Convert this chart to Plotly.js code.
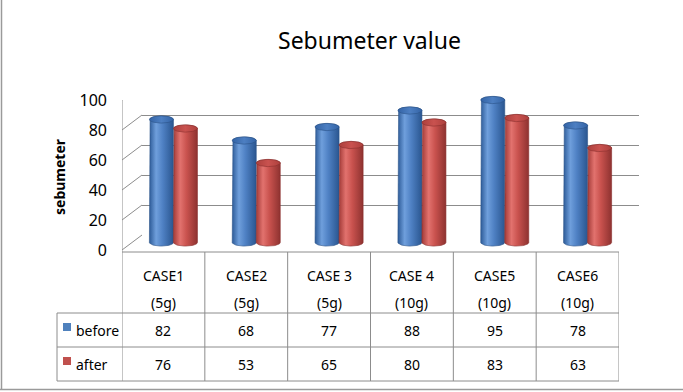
<!DOCTYPE html>
<html>
<head>
<meta charset="utf-8">
<script src="https://cdn.plot.ly/plotly-3.0.1.min.js"></script>
<style>html,body{margin:0;padding:0;background:#fff;}#chart{width:683px;height:392px;}</style>
</head>
<body>
<div id="chart"></div>
<script>
// ---- data ----
const categories = ['CASE1', 'CASE2', 'CASE 3', 'CASE 4', 'CASE5', 'CASE6'];
const weights = ['(5g)', '(5g)', '(5g)', '(10g)', '(10g)', '(10g)'];
const seriesNames = ['before', 'after'];
const before = [82, 68, 77, 88, 95, 78];
const after = [76, 53, 65, 80, 83, 63];
const yTicks = [0, 20, 40, 60, 80, 100];

// ---- style ----
const W = 683, H = 392;
const px = x => x / W;
const py = y => 1 - y / H;
const FONT = '"Noto Sans", "Open Sans", sans-serif';
const DX = 20, DY = 15;           // depth offset of back wall (px)
const gridColor = '#8c8c8c';
const tableColor = '#8c8c8c';
const styles = {
  before: {swatch: '#4f81bd', body: [[0, '#2d5b98'], [0.28, '#6f9fdc'], [0.55, '#4f81c4'], [1, '#2a5690']], cap: [[0, '#3464a6'], [0.5, '#4d7fc2'], [1, '#3464a6']], edge: '#2a5288'},
  after:  {swatch: '#c0504d', body: [[0, '#a33b38'], [0.28, '#e2726e'], [0.55, '#c9524e'], [1, '#8e3230']], cap: [[0, '#ad403d'], [0.5, '#c9524f'], [1, '#ad403d']], edge: '#8a2f2d'}
};

const values = {before: before, after: after};
const hw = 0.145, ry = 2.4, N = 36;
const traces = [];

seriesNames.forEach((name, s) => {
  const st = styles[name];
  values[name].forEach((v, i) => {
    const xc = i + (s === 0 ? -hw : hw);
    const bx = [], by = [];
    bx.push(xc - hw); by.push(0);
    for (let k = 0; k <= N; k++) { const t = Math.PI - Math.PI * k / N; bx.push(xc + hw * Math.cos(t)); by.push(v + ry * Math.sin(t)); }
    for (let k = 0; k <= N; k++) { const t = -Math.PI * k / N; bx.push(xc + hw * Math.cos(t)); by.push(ry * Math.sin(t)); }
    traces.push({type: 'scatter', mode: 'lines', x: bx, y: by, xaxis: 'x3', yaxis: 'y3', fill: 'toself',
      fillgradient: {type: 'horizontal', colorscale: st.body}, line: {width: 0.6, color: st.edge},
      hoverinfo: 'skip', showlegend: false});
    const cx = [], cy = [];
    for (let k = 0; k <= 2 * N; k++) { const t = 2 * Math.PI * k / (2 * N); cx.push(xc + hw * Math.cos(t)); cy.push(v + ry * Math.sin(t)); }
    traces.push({type: 'scatter', mode: 'lines', x: cx, y: cy, xaxis: 'x3', yaxis: 'y3', fill: 'toself',
      fillgradient: {type: 'horizontal', colorscale: st.cap}, line: {width: 0.6, color: st.edge},
      hoverinfo: 'skip', showlegend: false});
  });
});

// invisible traces to create front and back subplots
traces.unshift({type: 'scatter', x: [0], y: [0], xaxis: 'x2', yaxis: 'y2', mode: 'markers', marker: {opacity: 0}, hoverinfo: 'skip', showlegend: false});
traces.unshift({type: 'scatter', x: [0], y: [0], xaxis: 'x', yaxis: 'y', mode: 'markers', marker: {opacity: 0}, hoverinfo: 'skip', showlegend: false});

const hidden = {showgrid: false, zeroline: false, showline: false, showticklabels: false, ticks: '', fixedrange: true};

const shapes = [];
const annotations = [];

// side wall diagonals (front tick -> back tick)
yTicks.forEach(t => {
  shapes.push({type: 'line', xref: 'x', yref: 'y', xsizemode: 'pixel', ysizemode: 'pixel', xanchor: -0.5, yanchor: t,
    x0: 0, y0: 0, x1: DX, y1: DY, line: {color: gridColor, width: 1}});
});
// right floor diagonal
shapes.push({type: 'line', xref: 'x', yref: 'y', xsizemode: 'pixel', ysizemode: 'pixel', xanchor: 5.5, yanchor: 0,
  x0: 0, y0: -1, x1: DX, y1: DY, line: {color: gridColor, width: 1}});
// side wall front edge down through table
shapes.push({type: 'line', xref: 'x', yref: 'paper', x0: -0.5, x1: -0.5, y0: py(381), y1: py(100), line: {color: tableColor, width: 1}});
// table horizontal lines
shapes.push({type: 'line', xref: 'paper', yref: 'paper', x0: px(122), x1: px(619), y0: py(252), y1: py(252), line: {color: tableColor, width: 1}});
[313, 347, 381].forEach(y => shapes.push({type: 'line', xref: 'paper', yref: 'paper', x0: px(57), x1: px(619), y0: py(y), y1: py(y), line: {color: tableColor, width: 1}}));
// legend column left edge
shapes.push({type: 'line', xref: 'paper', yref: 'paper', x0: px(57), x1: px(57), y0: py(313), y1: py(381), line: {color: tableColor, width: 1}});
// column separators
categories.forEach((c, i) => {
  shapes.push({type: 'line', xref: 'x', yref: 'paper', x0: i + 0.5, x1: i + 0.5, y0: py(381), y1: py(252), line: {color: tableColor, width: 1}});
});
// outer border (left and bottom)
shapes.push({type: 'line', xref: 'paper', yref: 'paper', x0: px(1.5), x1: px(1.5), y0: py(390), y1: 1, line: {color: '#9a9a9a', width: 1.5}});
shapes.push({type: 'line', xref: 'paper', yref: 'paper', x0: 0, x1: 1, y0: py(389.5), y1: py(389.5), line: {color: '#9a9a9a', width: 1.5}});

// legend swatches + labels in table
const rowY = [330, 364];
seriesNames.forEach((name, s) => {
  shapes.push({type: 'rect', xref: 'paper', yref: 'paper', x0: px(63), x1: px(71), y0: py(rowY[s] - 7), y1: py(rowY[s] + 1),
    fillcolor: styles[name].swatch, line: {width: 0}});
  annotations.push({xref: 'paper', yref: 'paper', x: px(74), y: py(rowY[s]), text: name, showarrow: false,
    xanchor: 'left', yanchor: 'middle', font: {family: FONT, size: 14, color: '#000'}});
  values[name].forEach((v, i) => {
    annotations.push({xref: 'x', yref: 'paper', x: i, y: py(rowY[s]), text: String(v), showarrow: false,
      xanchor: 'center', yanchor: 'middle', font: {family: FONT, size: 14, color: '#000'}});
  });
});
// header
categories.forEach((c, i) => {
  annotations.push({xref: 'x', yref: 'paper', x: i, y: py(275), text: c, showarrow: false,
    xanchor: 'center', yanchor: 'middle', font: {family: FONT, size: 14, color: '#000'}});
  annotations.push({xref: 'x', yref: 'paper', x: i, y: py(302), text: weights[i], showarrow: false,
    xanchor: 'center', yanchor: 'middle', font: {family: FONT, size: 14, color: '#000'}});
});
// titles
annotations.push({xref: 'paper', yref: 'paper', x: px(369), y: py(40), text: 'Sebumeter value', showarrow: false,
  xanchor: 'center', yanchor: 'middle', font: {family: FONT, size: 23, color: '#000'}});
annotations.push({xref: 'paper', yref: 'paper', x: px(60), y: py(177), text: '<b>sebumeter</b>', textangle: -90, showarrow: false,
  xanchor: 'center', yanchor: 'middle', font: {family: FONT, size: 14, color: '#000'}});

const layout = {
  width: W, height: H,
  margin: {l: 0, r: 0, t: 0, b: 0},
  paper_bgcolor: '#fff', plot_bgcolor: 'rgba(0,0,0,0)',
  showlegend: false,
  xaxis: Object.assign({}, hidden, {domain: [px(122), px(619)], range: [-0.5, 5.5], anchor: 'y'}),
  yaxis: Object.assign({}, hidden, {domain: [py(250), py(100)], range: [0, 100], anchor: 'x',
    showticklabels: true, tickvals: yTicks, ticktext: yTicks.map(String), ticklabelstandoff: 14,
    tickfont: {family: FONT, size: 16, color: '#000'}}),
  xaxis2: Object.assign({}, hidden, {domain: [px(122 + DX), px(619 + DX)], range: [-0.5, 5.5], anchor: 'y2'}),
  yaxis2: Object.assign({}, hidden, {domain: [py(250 - DY), py(100 - DY)], range: [0, 100], anchor: 'x2',
    showgrid: true, gridcolor: gridColor, gridwidth: 1, tickvals: yTicks}),
  xaxis3: Object.assign({}, hidden, {domain: [px(122 + DX / 2), px(619 + DX / 2)], range: [-0.5, 5.5], anchor: 'y3'}),
  yaxis3: Object.assign({}, hidden, {domain: [py(250), py(85)], range: [-5, 105], anchor: 'x3'}),
  shapes: shapes,
  annotations: annotations
};

Plotly.newPlot('chart', traces, layout, {staticPlot: true, displayModeBar: false});
</script>
</body>
</html>
